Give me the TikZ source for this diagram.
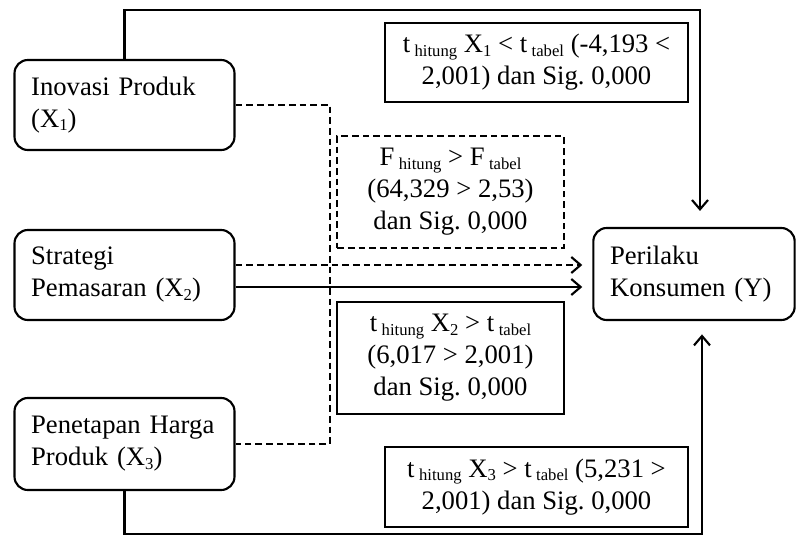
\documentclass[tikz,border=0pt]{standalone}
\usepackage{fontspec}
\setmainfont{Liberation Serif}
\usetikzlibrary{arrows.meta}
\newcommand{\lowtxt}[1]{\raisebox{-2.5pt}{\fontsize{12.5}{12.5}\selectfont #1}}
\frenchspacing

\begin{document}
\begin{tikzpicture}[x=0.75pt,y=-0.75pt,
    font=\fontsize{20}{24}\selectfont,
    varbox/.style={draw, line width=1.6pt, rounded corners=10pt, text width=140pt,
      align=left, inner xsep=12.5pt, minimum height=67.5pt},
    statbox/.style={draw, line width=1.6pt, align=center, inner sep=2pt},
    conn/.style={line width=1.6pt},
    dashline/.style={conn, dash pattern=on 5pt off 3pt},
    tip/.style={-{Straight Barb[length=7pt,width=12pt]}}]
    \useasboundingbox (0,0) rectangle (800,536);
    \node[varbox] (inov) at (124.5,105) {Inovasi Produk\\(X\lowtxt{1})};
    \node[varbox] (strat) at (124.5,275) {Strategi\\Pemasaran (X\lowtxt{2})};
    \node[varbox, minimum height=69pt] (harga) at (124.5,444) {Penetapan Harga\\Produk (X\lowtxt{3})};
    \node[varbox, text width=126pt, minimum height=69pt] (kons) at (694,274) {Perilaku\\Konsumen (Y)};
    \node[statbox, minimum width=227pt, minimum height=59pt] (tsatu) at (536.5,62.5)
      {t\,\lowtxt{hitung} X\lowtxt{1} < t\,\lowtxt{tabel} (-4,193 <\\2,001) dan Sig. 0,000};
    \node[statbox, dash pattern=on 5pt off 3pt, minimum width=170pt, minimum height=84pt] (fuji) at (450.5,192)
      {F\,\lowtxt{hitung} > F\,\lowtxt{tabel}\\(64,329 > 2,53)\\dan Sig. 0,000};
    \node[statbox, minimum width=170pt, minimum height=84pt] (tdua) at (450.5,358)
      {t\,\lowtxt{hitung} X\lowtxt{2} > t\,\lowtxt{tabel}\\(6,017 > 2,001)\\dan Sig. 0,000};
    \node[statbox, minimum width=227pt, minimum height=60pt] (ttiga) at (536.5,487)
      {t\,\lowtxt{hitung} X\lowtxt{3} > t\,\lowtxt{tabel} (5,231 >\\2,001) dan Sig. 0,000};
    \coordinate (topR) at (700,10);
    \coordinate (botR) at (702,534);
    \coordinate (vjoin) at (330,275);
    \coordinate (sdash) at ([yshift=7.5pt]strat.east);
    \coordinate (ssolid) at ([yshift=-9pt]strat.east);
    \draw[conn, tip, shorten >=12pt] (inov.north) |- (topR) -- (topR |- kons.north);
    \draw[conn, tip, shorten >=10pt] (harga.south) |- (botR) -- (botR |- kons.south);
    \draw[dashline] (inov.east) -| (vjoin) |- (harga.east);
    \draw[dashline, tip, shorten >=7.5pt] (sdash) -- (sdash -| kons.west);
    \draw[conn, tip, shorten >=7.5pt] (ssolid) -- (ssolid -| kons.west);
  \end{tikzpicture}
\end{document}
